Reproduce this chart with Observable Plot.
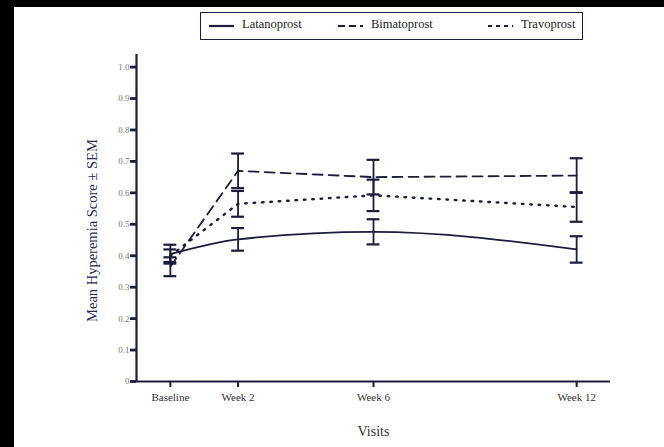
<!DOCTYPE html>
<html>
<head>
<meta charset="utf-8">
<script src="https://cdn.jsdelivr.net/npm/d3@7"></script>
<script src="https://cdn.jsdelivr.net/npm/@observablehq/plot@0.6"></script>
<style>
  body { margin: 0; background: #fff; }
  #wrap { position: relative; width: 664px; height: 447px; overflow: hidden; background: #fff; font-family: "Liberation Serif", "DejaVu Serif", serif; }
  #bl { position: absolute; left: 0; top: 0; width: 14px; height: 447px; background: #000; }
  #bt { position: absolute; left: 0; top: 0; width: 664px; height: 7px; background: #000; }
  #legend { position: absolute; left: 200px; top: 12px; width: 381px; height: 26px; border: 1.6px solid #1c1c3c; box-sizing: content-box; font-size: 12.5px; color: #222; }
  #legend .item { position: absolute; top: 4px; display: flex; align-items: center; gap: 8px; }
  #plot { position: absolute; left: 0; top: 0; }
</style>
</head>
<body>
<div id="wrap">
  <div id="plot"></div>
  <div id="bl"></div>
  <div id="bt"></div>
  <div id="legend"></div>
</div>
<script>
// ---- data ----
const drugs = ["Latanoprost", "Bimatoprost", "Travoprost"];
const weeks = [0, 2, 6, 12];
const visitLabels = ["Baseline", "Week 2", "Week 6", "Week 12"];
const latanoprostMean = [0.405, 0.452, 0.476, 0.420];
const latanoprostSEM  = [0.030, 0.036, 0.040, 0.042];
const bimatoprostMean = [0.365, 0.670, 0.650, 0.655];
const bimatoprostSEM  = [0.030, 0.055, 0.055, 0.055];
const travoprostMean  = [0.400, 0.565, 0.592, 0.555];
const travoprostSEM   = [0.020, 0.041, 0.050, 0.047];
const yTicks = [0, 0.1, 0.2, 0.3, 0.4, 0.5, 0.6, 0.7, 0.8, 0.9, 1.0];

const means = {Latanoprost: latanoprostMean, Bimatoprost: bimatoprostMean, Travoprost: travoprostMean};
const sems = {Latanoprost: latanoprostSEM, Bimatoprost: bimatoprostSEM, Travoprost: travoprostSEM};
const rows = drugs.flatMap(drug => weeks.map((w, i) => ({
  drug, week: w, mean: means[drug][i], lo: means[drug][i] - sems[drug][i], hi: means[drug][i] + sems[drug][i]
})));
const caps = rows.flatMap(r => [{...r, cap: r.lo}, {...r, cap: r.hi}]);

const ink = "#1c1c3c";
const dash = {Latanoprost: null, Bimatoprost: "10,6", Travoprost: "1.6,6.8"};
const curve = {Latanoprost: "monotone-x", Bimatoprost: "linear", Travoprost: "linear"};

const lineMarks = drugs.map(drug => Plot.line(rows.filter(r => r.drug === drug), {
  x: "week", y: "mean", stroke: ink, strokeWidth: drug === "Travoprost" ? 2.4 : 1.8,
  strokeDasharray: dash[drug], curve: curve[drug]
}));

const chart = Plot.plot({
  width: 664,
  height: 447,
  marginLeft: 136,
  marginRight: 54,
  marginTop: 54,
  marginBottom: 66,
  style: {fontFamily: "'Liberation Serif', serif", background: "transparent"},
  x: {type: "linear", domain: [-1, 13], label: null},
  y: {type: "linear", domain: [0, 1.04], label: null},
  marks: [
    ...lineMarks,
    Plot.ruleX(rows, {x: "week", y1: "lo", y2: "hi", stroke: ink, strokeWidth: 1.8}),
    Plot.ruleY(caps, {y: "cap", x1: d => d.week - 0.19, x2: d => d.week + 0.19, stroke: ink, strokeWidth: 2.2}),
    // axes
    Plot.ruleY([0], {stroke: ink, strokeWidth: 2.2}),
    Plot.ruleX([-1], {stroke: ink, strokeWidth: 2.2}),
    Plot.axisY({ticks: yTicks, tickSize: 6, strokeWidth: 2.8, stroke: ink, tickFormat: d => d === 0 ? "0" : d.toFixed(1),
      fontSize: 9, fill: "#777", tickPadding: 1, label: null}),
    Plot.axisX({ticks: weeks, tickSize: 6, strokeWidth: 2, stroke: ink, tickFormat: d => visitLabels[weeks.indexOf(d)],
      fontSize: 11, fill: "#333", tickPadding: 6, label: null}),
    Plot.text(["Visits"], {frameAnchor: "bottom", dy: 54, x: 6, fontSize: 14, fill: "#333"}),
    Plot.text(["Mean Hyperemia Score ± SEM"], {frameAnchor: "left", dx: -44, rotate: -90, textAnchor: "middle",
      fontSize: 14.5, fill: "#2a2a55", y: 0.48})
  ]
});
document.getElementById("plot").appendChild(chart);

// ---- legend ----
const legend = document.getElementById("legend");
const legendPos = [8, 137, 287];
const legendDash = {Latanoprost: null, Bimatoprost: "7,4", Travoprost: "4,4"};
drugs.forEach((drug, i) => {
  const item = document.createElement("div");
  item.className = "item";
  item.style.left = legendPos[i] + "px";
  const d = legendDash[drug];
  item.innerHTML = `<svg width="25" height="14"><line x1="0" x2="25" y1="8" y2="8" stroke="${ink}" stroke-width="2.2" ${d ? `stroke-dasharray="${d}"` : ""}/></svg><span>${drug}</span>`;
  legend.appendChild(item);
});
</script>
</body>
</html>
